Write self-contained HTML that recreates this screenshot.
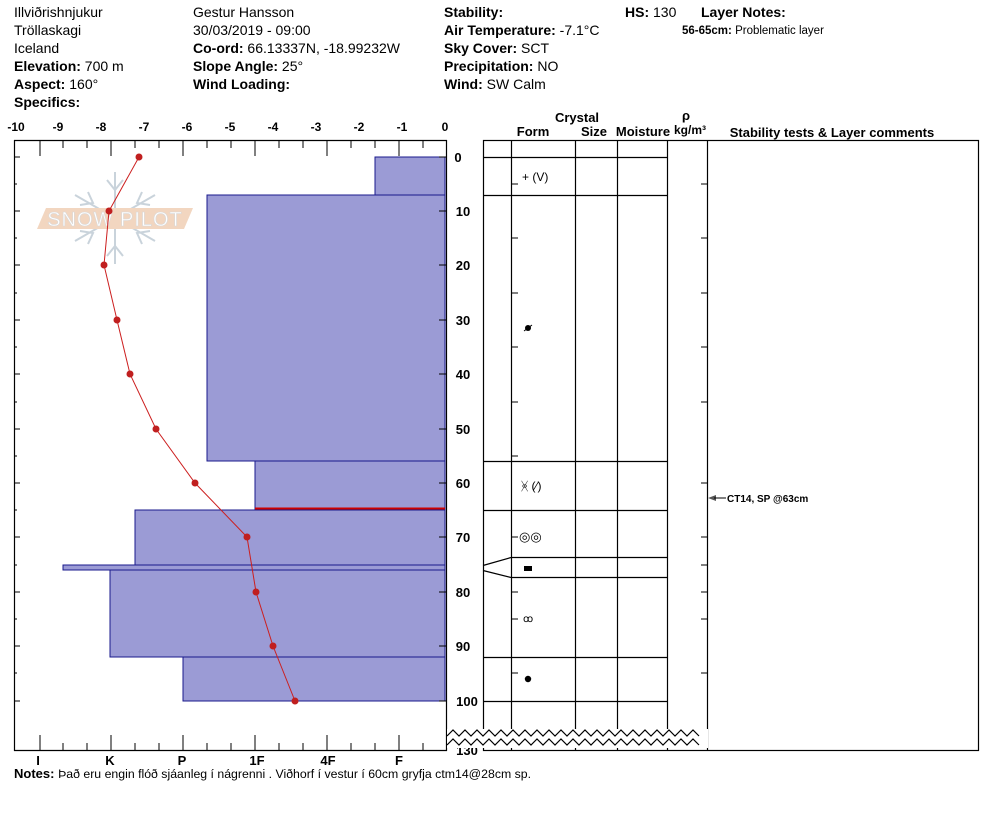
<!DOCTYPE html>
<html><head><meta charset="utf-8"><style>
html,body{margin:0;padding:0;background:#fff;}
svg{display:block;font-family:"Liberation Sans",sans-serif;}
.h{font-size:14px;fill:#000}
.b{font-weight:bold}
</style></head><body>
<svg width="994" height="840" viewBox="0 0 994 840" xmlns="http://www.w3.org/2000/svg">
<g class="h">
<text x="14" y="17">Illviðrishnjukur</text>
<text x="14" y="35">Tröllaskagi</text>
<text x="14" y="53">Iceland</text>
<text x="14" y="71"><tspan class="b">Elevation:</tspan> 700 m</text>
<text x="14" y="89"><tspan class="b">Aspect:</tspan> 160°</text>
<text x="14" y="107" class="b">Specifics:</text>
<text x="193" y="17">Gestur Hansson</text>
<text x="193" y="35">30/03/2019 - 09:00</text>
<text x="193" y="53"><tspan class="b">Co-ord:</tspan> 66.13337N, -18.99232W</text>
<text x="193" y="71"><tspan class="b">Slope Angle:</tspan> 25°</text>
<text x="193" y="89" class="b">Wind Loading:</text>
<text x="444" y="17" class="b">Stability:</text>
<text x="444" y="35"><tspan class="b">Air Temperature:</tspan> -7.1°C</text>
<text x="444" y="53"><tspan class="b">Sky Cover:</tspan> SCT</text>
<text x="444" y="71"><tspan class="b">Precipitation:</tspan> NO</text>
<text x="444" y="89"><tspan class="b">Wind:</tspan>  SW Calm</text>
<text x="625" y="17"><tspan class="b">HS:</tspan> 130</text>
<text x="701" y="17" class="b">Layer Notes:</text>
</g>
<text x="682" y="34" font-size="11.5"><tspan font-weight="bold">56-65cm:</tspan> Problematic layer</text>

<g font-size="12" font-weight="bold" text-anchor="middle">
<text x="16" y="131">-10</text><text x="58" y="131">-9</text><text x="101" y="131">-8</text>
<text x="144" y="131">-7</text><text x="187" y="131">-6</text><text x="230" y="131">-5</text>
<text x="273" y="131">-4</text><text x="316" y="131">-3</text><text x="359" y="131">-2</text>
<text x="402" y="131">-1</text><text x="445" y="131">0</text>
</g>

<g stroke="#c9d3db" stroke-width="2" fill="none">
<line x1="115" y1="172" x2="115" y2="264"/>
<line x1="75" y1="195" x2="155" y2="241"/>
<line x1="75" y1="241" x2="155" y2="195"/>
<path d="M107 180 L115 190 L123 180 M107 256 L115 246 L123 256 M80 205 L93 203 L88 192 M150 231 L137 233 L142 244 M80 231 L93 233 L88 244 M150 205 L137 203 L142 192"/>
</g>
<polygon points="46,208 193,208 184,229 37,229" fill="#f2d6c0"/>
<text x="115" y="226" font-size="20" text-anchor="middle" fill="#fff" stroke="#d9d9d9" stroke-width="0.6" letter-spacing="1">SNOW PILOT</text>

<g fill="#9b9bd5" stroke="#1a1a8c" stroke-width="1">
<rect x="375" y="157" width="70" height="38"/>
<rect x="207" y="195" width="238" height="266"/>
<rect x="255" y="461" width="190" height="48"/>
<rect x="135" y="510" width="310" height="55"/>
<rect x="63" y="565" width="382" height="5"/>
<rect x="110" y="570" width="335" height="87"/>
<rect x="183" y="657" width="262" height="44"/>
</g>
<line x1="255" y1="508.5" x2="445" y2="508.5" stroke="#cc0000" stroke-width="2"/>

<g stroke="#000" stroke-width="1.2" fill="none">
<line x1="14.5" y1="140" x2="14.5" y2="751"/>
<line x1="14" y1="140.5" x2="447" y2="140.5"/>
<line x1="14" y1="750.5" x2="447" y2="750.5"/>
<line x1="446.5" y1="140" x2="446.5" y2="751"/>
</g>
<g stroke="#000" stroke-width="1">
<path d="M40 140v16M63 140v8M87 140v8M111 140v16M135 140v8M159 140v8M183 140v16M207 140v8M231 140v8M255 140v16M279 140v8M303 140v8M327 140v16M351 140v8M375 140v8M399 140v16M423 140v8"/>
<path d="M40 751v-16M63 751v-8M87 751v-8M111 751v-16M135 751v-8M159 751v-8M183 751v-16M207 751v-8M231 751v-8M255 751v-16M279 751v-8M303 751v-8M327 751v-16M351 751v-8M375 751v-8M399 751v-16M423 751v-8"/>
<path d="M14 157h6M14 184h3M14 211h6M14 238h3M14 265h6M14 293h3M14 320h6M14 347h3M14 374h6M14 402h3M14 429h6M14 456h3M14 483h6M14 510h3M14 537h6M14 565h3M14 592h6M14 619h3M14 646h6M14 673h3M14 701h6"/>
<path d="M447 157h-8M447 211h-8M447 265h-8M447 320h-8M447 374h-8M447 429h-8M447 483h-8M447 537h-8M447 592h-8M447 646h-8M447 701h-8"/>
</g>

<polyline points="139,157 109,211 104,265 117,320 130,374 156,429 195,483 247,537 256,592 273,646 295,701" fill="none" stroke="#cc1f1f" stroke-width="1"/>
<g fill="#c01f1f">
<circle cx="139" cy="157" r="3.5"/><circle cx="109" cy="211" r="3.5"/><circle cx="104" cy="265" r="3.5"/>
<circle cx="117" cy="320" r="3.5"/><circle cx="130" cy="374" r="3.5"/><circle cx="156" cy="429" r="3.5"/>
<circle cx="195" cy="483" r="3.5"/><circle cx="247" cy="537" r="3.5"/><circle cx="256" cy="592" r="3.5"/>
<circle cx="273" cy="646" r="3.5"/><circle cx="295" cy="701" r="3.5"/>
</g>

<g font-size="13" font-weight="bold" text-anchor="middle">
<text x="38" y="765">I</text><text x="110" y="765">K</text><text x="182" y="765">P</text>
<text x="257" y="765">1F</text><text x="328" y="765">4F</text><text x="399" y="765">F</text>
</g>

<g font-size="13" font-weight="bold" text-anchor="middle">
<text x="458" y="162">0</text><text x="463" y="216">10</text><text x="463" y="270">20</text>
<text x="463" y="325">30</text><text x="463" y="379">40</text><text x="463" y="434">50</text>
<text x="463" y="488">60</text><text x="463" y="542">70</text><text x="463" y="597">80</text>
<text x="463" y="651">90</text><text x="467" y="706">100</text><text x="467" y="755">130</text>
</g>

<g font-size="13" font-weight="bold" text-anchor="middle">
<text x="577" y="122">Crystal</text>
<text x="533" y="136">Form</text><text x="594" y="136">Size</text><text x="643" y="136">Moisture</text>
<text x="686" y="120">ρ</text><text x="690" y="134" font-size="12">kg/m³</text>
<text x="832" y="137">Stability tests &amp; Layer comments</text>
</g>

<g stroke="#000" stroke-width="1.2" fill="none">
<rect x="483.5" y="140.5" width="495" height="610"/>
<line x1="511.5" y1="140" x2="511.5" y2="750"/>
<line x1="575.5" y1="140" x2="575.5" y2="750"/>
<line x1="617.5" y1="140" x2="617.5" y2="750"/>
<line x1="667.5" y1="140" x2="667.5" y2="750"/>
<line x1="707.5" y1="140" x2="707.5" y2="750"/>
<path d="M483 157.5h184M483 195.5h184M483 461.5h184M483 510.5h184M511 557.5h156M511 577.5h156M483 657.5h184M483 701.5h184"/>
<path d="M483 565.5L511 557.5M483 570.5L511 577.5"/>
</g>
<g stroke="#000" stroke-width="1">
<path d="M512 184h6M512 238h6M512 293h6M512 347h6M512 402h6M512 456h6M512 537h6M512 592h6M512 619h6M512 673h6"/>
<path d="M707 184h-6M707 238h-6M707 293h-6M707 347h-6M707 402h-6M707 483h-6M707 537h-6M707 565h-6M707 592h-6M707 619h-6M707 673h-6"/>
</g>

<rect x="447" y="729" width="261" height="19" fill="#fff"/>
<path d="M447 736 l6 -6 l6 6 l6 -6 l6 6 l6 -6 l6 6 l6 -6 l6 6 l6 -6 l6 6 l6 -6 l6 6 l6 -6 l6 6 l6 -6 l6 6 l6 -6 l6 6 l6 -6 l6 6 l6 -6 l6 6 l6 -6 l6 6 l6 -6 l6 6 l6 -6 l6 6 l6 -6 l6 6 l6 -6 l6 6 l6 -6 l6 6 l6 -6 l6 6 l6 -6 l6 6 l6 -6 l6 6 l6 -6 l6 6" fill="none" stroke="#000" stroke-width="1.2"/>
<path d="M447 745 l6 -6 l6 6 l6 -6 l6 6 l6 -6 l6 6 l6 -6 l6 6 l6 -6 l6 6 l6 -6 l6 6 l6 -6 l6 6 l6 -6 l6 6 l6 -6 l6 6 l6 -6 l6 6 l6 -6 l6 6 l6 -6 l6 6 l6 -6 l6 6 l6 -6 l6 6 l6 -6 l6 6 l6 -6 l6 6 l6 -6 l6 6 l6 -6 l6 6 l6 -6 l6 6 l6 -6 l6 6 l6 -6 l6 6" fill="none" stroke="#000" stroke-width="1.2"/>

<text x="522" y="181" font-size="12">+ (V)</text>
<circle cx="528" cy="328" r="3" fill="#000"/><line x1="524" y1="331" x2="532" y2="325" stroke="#000"/>
<text x="521" y="490" font-size="12">ᚸ (⁄)</text>
<text x="519" y="541" font-size="13">◎◎</text>
<rect x="524" y="566" width="8" height="5" fill="#000"/>
<text x="523" y="622" font-size="10">ꝏ</text>
<circle cx="528" cy="679" r="3.2" fill="#000"/>

<path d="M708 498 l8 -3 v6 z" fill="#555"/>
<line x1="714" y1="498" x2="726" y2="498" stroke="#000"/>
<text x="727" y="502" font-size="10" font-weight="bold">CT14, SP @63cm</text>

<text x="14" y="778" font-size="13"><tspan font-weight="bold">Notes:</tspan> <tspan font-size="12.3">Það eru engin flóð sjáanleg í nágrenni . Viðhorf í vestur í 60cm gryfja ctm14@28cm sp.</tspan></text>
</svg>
</body></html>
